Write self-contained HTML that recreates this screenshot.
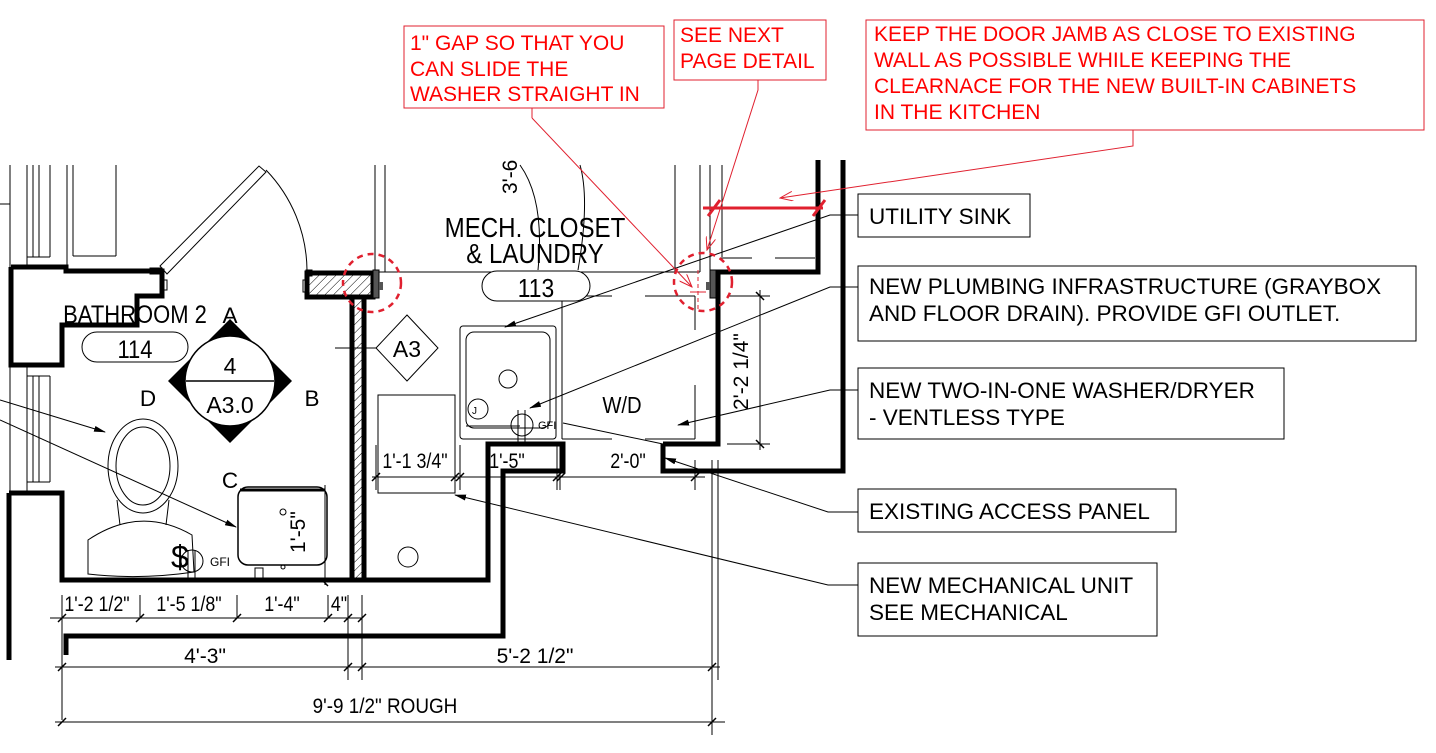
<!DOCTYPE html>
<html><head><meta charset="utf-8"><style>
html,body{margin:0;padding:0;background:#fff}
svg{display:block}
text{font-family:"Liberation Sans",sans-serif}
.lb{font-size:22.5px;fill:#000}
.rd{font-size:21px;fill:#f00}
.dm{font-size:21px;fill:#000}
</style></head><body>
<svg width="1436" height="753" viewBox="0 0 1436 753" xmlns="http://www.w3.org/2000/svg">
<defs>
<pattern id="h" width="6" height="6" patternUnits="userSpaceOnUse" patternTransform="rotate(45)"><line x1="0" y1="0" x2="0" y2="6" stroke="#000" stroke-width="1"/></pattern>
<marker id="ar" markerWidth="12" markerHeight="6" refX="11" refY="3" orient="auto" markerUnits="userSpaceOnUse"><path d="M0,0 L12,3 L0,6z" fill="#000"/></marker>
<marker id="rar" markerWidth="14" markerHeight="10" refX="13" refY="5" orient="auto" markerUnits="userSpaceOnUse"><path d="M0,0 L13,5 L0,10" fill="none" stroke="#e0202f" stroke-width="1"/></marker>
</defs>

<g stroke="#000" stroke-width="1" fill="none">
<line x1="10" y1="165" x2="10" y2="267"/><line x1="27" y1="165" x2="27" y2="267"/><line x1="33" y1="165" x2="33" y2="257"/><line x1="39" y1="165" x2="39" y2="257"/><line x1="50" y1="165" x2="50" y2="257"/>
<line x1="27" y1="257" x2="50" y2="257"/>
<line x1="67" y1="165" x2="67" y2="265"/><line x1="73" y1="165" x2="73" y2="256"/><line x1="116" y1="165" x2="116" y2="256"/><line x1="73" y1="256" x2="116" y2="256"/>
<line x1="0" y1="204" x2="10" y2="204"/>
<line x1="10" y1="366" x2="10" y2="492"/><line x1="27" y1="366" x2="27" y2="492"/><line x1="33" y1="376" x2="33" y2="482"/><line x1="39" y1="376" x2="39" y2="482"/><line x1="50" y1="376" x2="50" y2="482"/><line x1="27" y1="376" x2="50" y2="376"/><line x1="27" y1="482" x2="50" y2="482"/>
<line x1="375" y1="165" x2="375" y2="272"/><line x1="385" y1="165" x2="385" y2="272"/>
<line x1="675" y1="165" x2="675" y2="272"/><line x1="700" y1="165" x2="700" y2="272"/><line x1="710" y1="165" x2="710" y2="272"/><line x1="722" y1="165" x2="722" y2="257"/>
<line x1="372" y1="272" x2="700" y2="272"/>
<line x1="720" y1="258" x2="752" y2="258"/><line x1="775" y1="258" x2="815" y2="258"/>
</g>

<g stroke="#000" stroke-width="1" fill="#fff">
<polygon points="160,266 259,166 266,172 167,274"/>
<path d="M266,170 A146,146 0 0 1 307,270" fill="none"/>
<rect x="150" y="268" width="12" height="6"/><rect x="162" y="280" width="5" height="10"/>
<rect x="306" y="270" width="6" height="6"/><rect x="303" y="280" width="4" height="12"/>
</g>

<g stroke="#000" stroke-width="5" fill="none" stroke-linejoin="miter">
<polyline points="11,267 66,267 66,271 162,271 162,296 137,296 137,325 62,325 62,365 11,365 11,267"/>
<polyline points="9,493 62,493 62,580 362,580"/>
<line x1="9" y1="493" x2="9" y2="660"/>
<polyline points="66,655 66,636 503,636 503,471 563,471 563,444 488,444 488,580 362,580"/>
<polyline points="663,444 663,471 843,471 843,160"/>
<polyline points="663,444 718,444 718,272 818,272 818,160"/>
<line x1="352" y1="297" x2="352" y2="580"/><line x1="364" y1="297" x2="364" y2="580"/>
</g>
<rect x="354" y="298" width="8" height="280" fill="url(#h)"/>
<rect x="307" y="273" width="66" height="24" fill="url(#h)" stroke="#000" stroke-width="5"/>
<rect x="373" y="270" width="6" height="28" fill="#555" stroke="#000" stroke-width="1"/>
<rect x="379" y="282" width="4" height="8" fill="#555"/>
<rect x="710" y="270" width="6" height="28" fill="#555" stroke="#000" stroke-width="1"/>
<rect x="706" y="282" width="4" height="8" fill="#555"/>

<g stroke="#000" stroke-width="1" fill="none">
<ellipse cx="143" cy="466" rx="35" ry="47"/><ellipse cx="143" cy="466" rx="27" ry="39"/>
<path d="M117,500 L120,525 M169,500 L166,525"/>
<path d="M88,540 Q140,505 192,535 L194,572 Q140,580 88,574 Z"/>
<rect x="238" y="487" width="89" height="78" rx="10" stroke-width="1.5"/>
<line x1="240" y1="490" x2="325" y2="490" stroke-width="3"/>
<rect x="255" y="568" width="8" height="12"/>
<circle cx="283" cy="567" r="2"/><circle cx="283" cy="512" r="3"/>
<line x1="325" y1="485" x2="325" y2="585"/>
<rect x="460" y="326" width="96" height="113" rx="3"/>
<rect x="466" y="332" width="84" height="96" rx="8"/>
<circle cx="508" cy="379" r="9"/><circle cx="478" cy="409" r="10"/>
<line x1="466" y1="426" x2="520" y2="426"/>
<circle cx="522" cy="425" r="11"/><line x1="518" y1="410" x2="518" y2="442"/><line x1="525" y1="410" x2="525" y2="442"/>
<circle cx="192" cy="561" r="11"/><line x1="188" y1="550" x2="188" y2="580"/><line x1="195" y1="550" x2="195" y2="580"/>
<rect x="378" y="395" width="77" height="98"/>
<circle cx="408" cy="557" r="10"/>
<path d="M562,296 V439 M562,296 H612 M645,296 H695 M695,296 V330 M695,385 V439 M562,439 H612 M645,439 H695 M562,330 V380"/>
<path d="M520,165 Q545,200 538,270" /><path d="M578,270 Q590,200 580,165"/>
</g>
<text x="472" y="414" font-size="10">J</text>
<text x="538" y="429" font-size="11">GFI</text>
<text x="171" y="568" font-size="32" font-family="Liberation Serif">$</text>
<text x="210" y="566" font-size="12">GFI</text>

<polygon points="230,319 292,381 230,443 168,381" fill="#000"/>
<circle cx="230" cy="381" r="45" fill="#fff" stroke="#000" stroke-width="1.5"/>
<line x1="186" y1="381" x2="274" y2="381" stroke="#000" stroke-width="1.5"/>
<text x="230" y="374" font-size="23" text-anchor="middle">4</text>
<text x="230" y="413" font-size="23" text-anchor="middle">A3.0</text>
<text x="230" y="323" class="lb" text-anchor="middle">A</text>
<text x="312" y="406" class="lb" text-anchor="middle">B</text>
<text x="230" y="488" class="lb" text-anchor="middle">C</text>
<text x="148" y="406" class="lb" text-anchor="middle">D</text>
<polygon points="407,315 438,348 407,381 376,348" fill="#fff" stroke="#000"/>
<line x1="335" y1="348" x2="376" y2="348" stroke="#000"/>
<text x="407" y="357" font-size="23" text-anchor="middle">A3</text>

<text x="135" y="323" font-size="25" text-anchor="middle" transform="translate(135 0) scale(0.88 1) translate(-135 0)">BATHROOM 2</text>
<rect x="82" y="332" width="106" height="30" rx="15" fill="none" stroke="#000"/>
<text x="135" y="358" font-size="25" text-anchor="middle" transform="translate(135 0) scale(0.88 1) translate(-135 0)">114</text>
<text x="535" y="237" font-size="28" text-anchor="middle" transform="translate(535 0) scale(0.86 1) translate(-535 0)">MECH. CLOSET</text>
<text x="535" y="263" font-size="28" text-anchor="middle" transform="translate(535 0) scale(0.86 1) translate(-535 0)">&amp; LAUNDRY</text>
<rect x="482" y="271" width="108" height="30" rx="15" fill="#fff" stroke="#000"/>
<text x="536" y="297" font-size="26" text-anchor="middle" transform="translate(536 0) scale(0.88 1) translate(-536 0)">113</text>
<text x="622" y="413" font-size="23" text-anchor="middle" transform="translate(622 0) scale(0.88 1) translate(-622 0)">W/D</text>
<text transform="translate(517 194) rotate(-90)" font-size="21">3'-6</text>

<g stroke="#000" stroke-width="1" fill="none">
<line x1="50" y1="618" x2="362" y2="618"/>
<line x1="62" y1="595" x2="62" y2="720"/><line x1="140" y1="595" x2="140" y2="618"/><line x1="237" y1="595" x2="237" y2="618"/><line x1="328" y1="595" x2="328" y2="618"/><line x1="348" y1="595" x2="348" y2="680"/><line x1="362" y1="595" x2="362" y2="680"/>
<line x1="55" y1="667" x2="720" y2="667"/><line x1="55" y1="722" x2="725" y2="722"/>
<line x1="712" y1="460" x2="712" y2="735"/><line x1="718" y1="460" x2="718" y2="680"/>
<line x1="372" y1="477" x2="705" y2="477"/>
<line x1="376" y1="445" x2="376" y2="490"/><line x1="455" y1="445" x2="455" y2="490"/><line x1="460" y1="445" x2="460" y2="490"/><line x1="557" y1="445" x2="557" y2="490"/><line x1="560" y1="445" x2="560" y2="490"/><line x1="695" y1="460" x2="695" y2="490"/>
<line x1="760" y1="290" x2="760" y2="450"/><line x1="727" y1="296" x2="770" y2="296"/><line x1="727" y1="444" x2="770" y2="444"/>
<g stroke-width="1.5">
<path d="M58,622 l8,-8 M136,622 l8,-8 M233,622 l8,-8 M324,622 l8,-8 M344,622 l8,-8 M358,622 l8,-8"/>
<path d="M58,671 l8,-8 M344,671 l8,-8 M358,671 l8,-8 M708,671 l8,-8"/>
<path d="M58,726 l8,-8 M708,726 l8,-8"/>
<path d="M372,481 l8,-8 M451,481 l8,-8 M456,481 l8,-8 M553,481 l8,-8 M557,481 l8,-8 M691,481 l8,-8"/>
<path d="M756,292 l8,8 M756,440 l8,8 M320,578 l8,8"/>
</g>
</g>
<g class="dm">
<text x="97" y="611" text-anchor="middle" transform="translate(97 0) scale(0.85 1) translate(-97 0)">1'-2 1/2"</text>
<text x="189" y="611" text-anchor="middle" transform="translate(189 0) scale(0.85 1) translate(-189 0)">1'-5 1/8"</text>
<text x="282" y="611" text-anchor="middle" transform="translate(282 0) scale(0.85 1) translate(-282 0)">1'-4"</text>
<text x="339" y="611" text-anchor="middle" transform="translate(339 0) scale(0.85 1) translate(-339 0)">4"</text>
<text x="205" y="663" text-anchor="middle">4'-3"</text>
<text x="535" y="663" text-anchor="middle">5'-2 1/2"</text>
<text x="385" y="713" text-anchor="middle" transform="translate(385 0) scale(0.9 1) translate(-385 0)">9'-9 1/2" ROUGH</text>
<text x="415" y="468" text-anchor="middle" transform="translate(415 0) scale(0.85 1) translate(-415 0)">1'-1 3/4"</text>
<text x="507" y="468" text-anchor="middle" transform="translate(507 0) scale(0.85 1) translate(-507 0)">1'-5"</text>
<text x="628" y="468" text-anchor="middle" transform="translate(628 0) scale(0.85 1) translate(-628 0)">2'-0"</text>
</g>
<text transform="translate(748 410) rotate(-90)" class="dm">2'-2 1/4"</text>
<text transform="translate(305 553) rotate(-90)" class="dm">1'-5"</text>

<g stroke="#000" stroke-width="1" fill="none">
<polyline points="858,215 830,215 505,327" marker-end="url(#ar)"/>
<polyline points="858,287 830,287 530,408" marker-end="url(#ar)"/>
<polyline points="858,390 830,390 678,425" marker-end="url(#ar)"/>
<polyline points="858,512 828,512 665,458" marker-end="url(#ar)"/>
<polyline points="858,585 828,585 455,495" marker-end="url(#ar)"/>
<line x1="563" y1="423" x2="663" y2="444"/>
<line x1="0" y1="400" x2="105" y2="432" marker-end="url(#ar)"/>
<line x1="0" y1="420" x2="236" y2="527" marker-end="url(#ar)"/>
</g>

<g fill="#fff" stroke="#000" stroke-width="1">
<rect x="858" y="194" width="172" height="43"/>
<rect x="858" y="266" width="558" height="75"/>
<rect x="858" y="368" width="426" height="71"/>
<rect x="858" y="489" width="318" height="43"/>
<rect x="858" y="563" width="299" height="73"/>
</g>
<g class="lb">
<text x="869" y="224">UTILITY SINK</text>
<text x="869" y="294">NEW PLUMBING INFRASTRUCTURE (GRAYBOX</text>
<text x="869" y="321">AND FLOOR DRAIN). PROVIDE GFI OUTLET.</text>
<text x="869" y="398">NEW TWO-IN-ONE WASHER/DRYER</text>
<text x="869" y="425">- VENTLESS TYPE</text>
<text x="869" y="519">EXISTING ACCESS PANEL</text>
<text x="869" y="593">NEW MECHANICAL UNIT</text>
<text x="869" y="620">SEE MECHANICAL</text>
</g>

<g fill="none" stroke="#e0202f">
<circle cx="372" cy="283" r="29" stroke-width="2.5" stroke-dasharray="6,5"/>
<circle cx="703" cy="282" r="29" stroke-width="2.5" stroke-dasharray="6,5"/>
<line x1="703" y1="208" x2="823" y2="208" stroke-width="3"/>
<line x1="708" y1="216" x2="720" y2="200" stroke-width="3"/>
<line x1="813" y1="216" x2="825" y2="200" stroke-width="3"/>
<line x1="532" y1="108" x2="532" y2="118" stroke-width="1"/>
<polyline points="532,118 692,287" stroke-width="1" marker-end="url(#rar)"/>
<polyline points="758,80 758,90 707,250" stroke-width="1" marker-end="url(#rar)"/>
<polyline points="1133,130 1133,146 780,198" stroke-width="1" marker-end="url(#rar)"/>
<line x1="698" y1="270" x2="698" y2="310" stroke-width="1" stroke-dasharray="4,3"/>
<line x1="690" y1="292" x2="706" y2="292" stroke-width="1"/>
<rect x="404" y="26" width="260" height="82" stroke-width="1"/>
<rect x="674" y="20" width="152" height="60" stroke-width="1"/>
<rect x="866" y="20" width="558" height="110" stroke-width="1"/>
</g>
<g class="rd">
<text x="410" y="50">1" GAP SO THAT YOU</text>
<text x="410" y="76">CAN SLIDE THE</text>
<text x="410" y="101">WASHER STRAIGHT IN</text>
<text x="680" y="42">SEE NEXT</text>
<text x="680" y="68">PAGE DETAIL</text>
<text x="874" y="41">KEEP THE DOOR JAMB AS CLOSE TO EXISTING</text>
<text x="874" y="67">WALL AS POSSIBLE WHILE KEEPING THE</text>
<text x="874" y="93">CLEARNACE FOR THE NEW BUILT-IN CABINETS</text>
<text x="874" y="119">IN THE KITCHEN</text>
</g>
</svg>
</body></html>
